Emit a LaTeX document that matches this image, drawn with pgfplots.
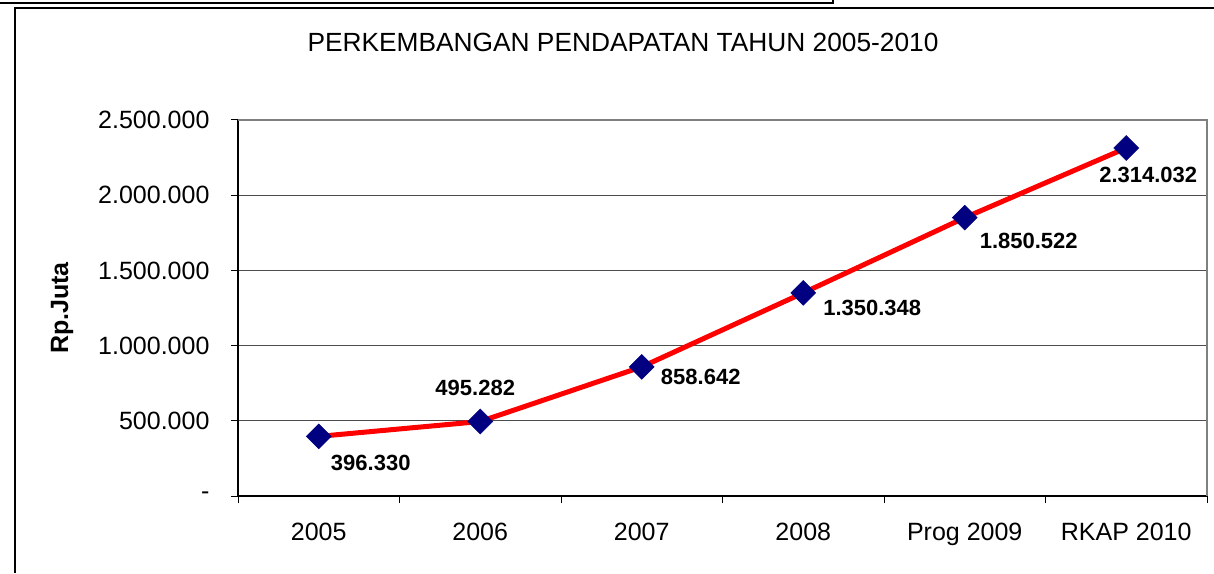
\documentclass[border=0pt]{standalone}
\usepackage{pgfplots}
\pgfplotsset{compat=1.18}
\usepackage{pgfplotstable}
\usepackage{fontspec}
\setmainfont{Liberation Sans}
\definecolor{navyblue}{HTML}{000080}
\definecolor{gridgray}{HTML}{4D4D4D}
\definecolor{bordergray}{HTML}{808080}
\pgfplotstableread{
x y label dx dy
0 396330 396.330 52 -27
1 495282 495.282 -5 34
2 858642 858.642 59 -10
3 1350348 1.350.348 69 -15
4 1850522 1.850.522 64 -23
5 2314032 2.314.032 22 -27
}\datatable
\begin{document}
\begin{tikzpicture}
\useasboundingbox (0,0) rectangle (1214pt,573pt);
\draw[line width=1.3pt] (15pt,0) -- (15pt,565pt) -- (1214pt,565pt);
\draw[line width=1.3pt] (0,570pt) -- (833pt,570pt) -- (833pt,573pt);
\node[font=\fontsize{26.3}{31}\selectfont] at (623pt,531pt) {PERKEMBANGAN PENDAPATAN TAHUN 2005-2010};
\node[rotate=90, font=\bfseries\fontsize{25}{30}\selectfont] at (62pt,265pt) {Rp.Juta};
\begin{axis}[
  at={(238pt,77pt)}, anchor=south west, scale only axis,
  width=969pt, height=376pt,
  xmin=-0.5, xmax=5.5, ymin=0, ymax=2500000,
  axis x line*=bottom, axis y line*=left,
  axis line style={black, line width=1.2pt},
  xtick={0,...,5},
  xticklabels={2005,2006,2007,2008,Prog 2009,RKAP 2010},
  major x tick style={draw=none},
  minor xtick={-0.5,0.5,...,5.5},
  minor x tick style={black, line width=1pt},
  ytick={0,500000,...,2500000},
  yticklabels={-,500.000,1.000.000,1.500.000,2.000.000,2.500.000},
  scaled y ticks=false,
  ytick style={black, line width=1pt},
  ymajorgrids, major grid style={gridgray, line width=1pt},
  tick align=outside, major tick length=7pt, minor tick length=7pt,
  tick label style={font=\fontsize{25}{30}\selectfont},
  yticklabel style={xshift=-18pt},
  xticklabel style={yshift=-17pt},
  clip=false,
]
\addplot[red, line width=5pt, mark=square*, mark size=8.8pt,
  mark options={solid, draw=navyblue, fill=navyblue, rotate=45, line width=0.5pt},
  nodes near coords, point meta=explicit symbolic,
  visualization depends on={\thisrow{dx}\as\myDX},
  visualization depends on={\thisrow{dy}\as\myDY},
  every node near coord/.append style={anchor=center, xshift=\myDX pt, yshift=\myDY pt,
    font=\bfseries\fontsize{22}{26}\selectfont, black}]
  table[x=x, y=y, meta=label] {\datatable};
\draw[bordergray, line width=1.5pt] (rel axis cs:0,1) -- (rel axis cs:1,1) -- (rel axis cs:1,0);
\end{axis}
\end{tikzpicture}
\end{document}
